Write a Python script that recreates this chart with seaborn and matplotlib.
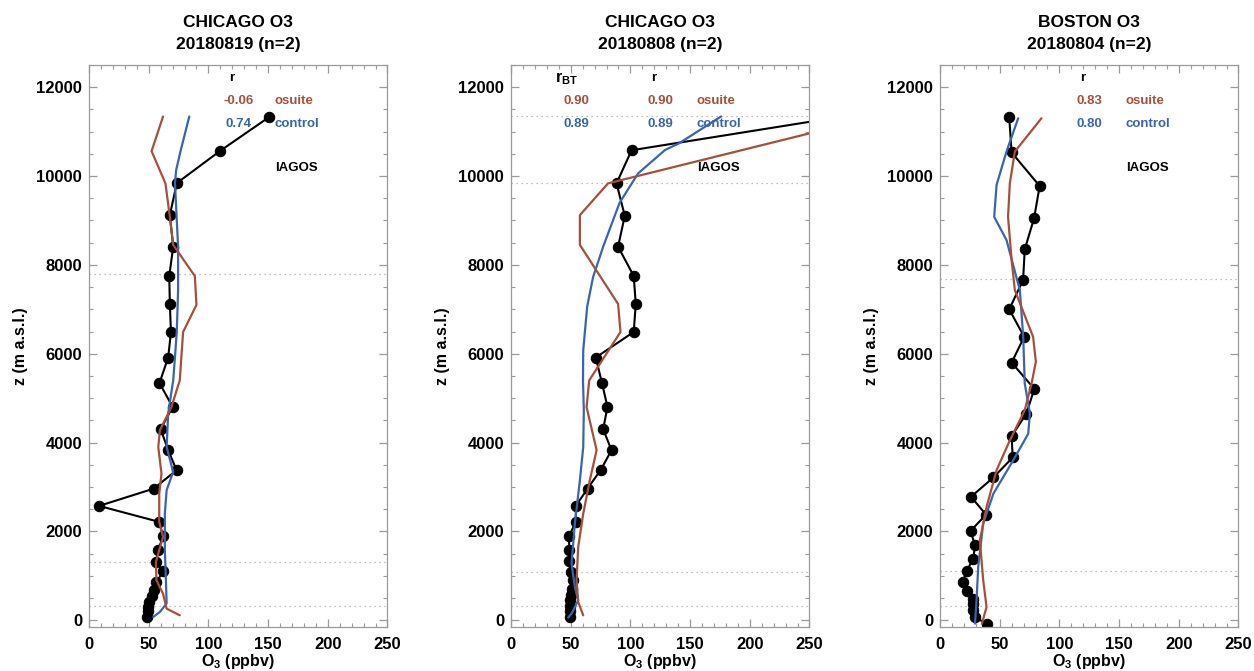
import numpy as np
import pandas as pd
import matplotlib
matplotlib.use("Agg")
import matplotlib.pyplot as plt
import seaborn as sns

# ---------------------------------------------------------------- data
# Panel 1: CHICAGO O3, 20180819
p1_iagos_z = [11330, 10560, 9840, 9120, 8410, 7750, 7120, 6490, 5915, 5340, 4805, 4300, 3830, 3380,
              2965, 2575, 2215, 1890, 1590, 1313, 1100, 863, 690, 540, 413, 300, 210, 75]
p1_iagos_o3 = [151, 109.5, 73.5, 67.7, 70.5, 67.2, 67.7, 68.6, 66.3, 59, 70, 60, 66.3, 73.3,
               54.3, 8.4, 58.8, 62, 58, 56, 62, 56.5, 54.3, 52.4, 50.4, 49.6, 49.6, 48.2]
p1_osuite_z = [11340, 10560, 9835, 9080, 8450, 7750, 7100, 6490, 5400, 4800, 4280, 3900, 3300,
               2850, 2215, 1880, 1580, 1313, 900, 600, 263, 113]
p1_osuite_o3 = [62, 52.4, 64, 67.7, 70.5, 88.6, 90, 78.8, 76, 69, 59.4, 58, 60.7,
                58.8, 58.8, 62, 58.8, 56, 56.5, 62, 65, 76]
p1_control_z = [11340, 10600, 10135, 9840, 9000, 8410, 7430, 6500, 5930, 5400, 4660, 3900, 3340,
                2930, 2410, 1600, 900, 380, 190, 75]
p1_control_o3 = [84, 77, 73, 72, 73.5, 74.6, 74.6, 73.5, 72, 70.5, 66.3, 65, 70.5,
                 65, 63.5, 63.5, 64.4, 65, 59.4, 53.8]

# Panel 2: CHICAGO O3, 20180808
p2_iagos_z = [11340, 10580, 9835, 9105, 8410, 7750, 7120, 6490, 5915, 5340, 4805, 4300, 3830, 3390,
              2965, 2575, 2215, 1900, 1590, 1330, 1090, 900, 713, 563, 450, 315, 203, 75]
p2_iagos_o3 = [278, 101, 88.4, 95.3, 89.7, 102.8, 104.5, 102.8, 71, 76.2, 80.8, 77.2, 84.2, 75.3,
               64.1, 54.3, 54.3, 48.7, 48.7, 48.7, 49.9, 52, 51.2, 50.4, 49.6, 49.3, 49.3, 49]
p2_osuite_z = [11340, 9835, 9120, 8450, 7120, 6490, 5400, 4800, 3830, 3150, 2400, 1650, 900, 413, 113]
p2_osuite_o3 = [307, 81.3, 57.7, 57.7, 89.7, 91.7, 65.5, 63.3, 71.7, 66, 60.5, 56.3, 54.9, 56.3, 60.5]
p2_control_z = [11340, 10740, 10585, 10060, 9400, 8410, 7730, 7060, 6080, 5400, 4730, 3900, 3150,
                2180, 1280, 750, 450, 150, 60]
p2_control_o3 = [176, 141, 129, 106.5, 91, 77.2, 68.8, 63.8, 60.5, 60.3, 61, 60.5, 57.7,
                 53.5, 50.7, 53.5, 56.3, 50.7, 47.9]

# Panel 3: BOSTON O3, 20180804
p3_iagos_z = [11320, 10530, 9775, 9050, 8350, 7660, 7000, 6380, 5800, 5210, 4655, 4145, 3665, 3215,
              2780, 2380, 2010, 1690, 1390, 1110, 863, 660, 490, 360, 225, 75, -80]
p3_iagos_o3 = [58, 60, 83.5, 78.8, 71, 69.6, 58, 70.5, 60, 79, 72.4, 60, 60.9, 44.7,
               26, 38.5, 25.6, 29.3, 27.9, 22.3, 19, 22.9, 27.4, 27.9, 27.9, 29.3, 39]
p3_osuite_z = [11300, 10550, 9835, 9080, 8110, 7430, 6380, 5820, 5330, 4730, 4050, 3380, 2550,
               1800, 900, 300, -75]
p3_osuite_o3 = [85, 62.7, 58.5, 57, 60, 62.7, 78, 80.3, 76.7, 71, 58.5, 47.4, 39,
                33.4, 36.2, 39, 35.1]
p3_control_z = [11300, 10550, 9800, 9080, 8560, 7430, 6380, 5330, 4655, 4200, 3600, 2850, 2180,
                1200, 450, -75]
p3_control_o3 = [65.5, 55.7, 47.4, 45.4, 55.7, 66.9, 69.7, 71, 75.3, 73.9, 61.3, 44.7, 36.2,
                 32, 30.6, 29.3]

titles = ["CHICAGO O3", "CHICAGO O3", "BOSTON O3"]
subtitles = ["20180819 (n=2)", "20180808 (n=2)", "20180804 (n=2)"]
r_osuite = ["-0.06", "0.90", "0.83"]
r_control = ["0.74", "0.89", "0.80"]
rbt_osuite = [None, "0.90", None]
rbt_control = [None, "0.89", None]
layer_z = [[7800, 1310, 330], [11340, 9840, 1090, 320], [7680, 1110, 320]]

# ---------------------------------------------------------------- style
sns.set_theme(style="ticks")
plt.rcParams["font.family"] = ["Liberation Sans", "DejaVu Sans"]
plt.rcParams["font.weight"] = "bold"
plt.rcParams["text.color"] = "black"
plt.rcParams["axes.labelcolor"] = "black"
plt.rcParams["mathtext.fontset"] = "custom"
plt.rcParams["mathtext.rm"] = "Liberation Sans:bold"
plt.rcParams["mathtext.it"] = "Liberation Sans:bold"
plt.rcParams["mathtext.bf"] = "Liberation Sans:bold"

C_OSUITE = "#a5503c"
C_CONTROL = "#3a65ab"
C_AXIS = "#9a9a9a"

fig = plt.figure(figsize=(12.54, 6.71), dpi=100)
lefts = [0.0710, 0.4075, 0.7496]
axes = [fig.add_axes([l, 0.0656, 0.2380, 0.8376]) for l in lefts]

panels = [
    (p1_iagos_o3, p1_iagos_z, p1_osuite_o3, p1_osuite_z, p1_control_o3, p1_control_z),
    (p2_iagos_o3, p2_iagos_z, p2_osuite_o3, p2_osuite_z, p2_control_o3, p2_control_z),
    (p3_iagos_o3, p3_iagos_z, p3_osuite_o3, p3_osuite_z, p3_control_o3, p3_control_z),
]

for i, (ax, pdata) in enumerate(zip(axes, panels)):
    io3, iz, oo3, oz, co3, cz = pdata

    for z in layer_z[i]:
        ax.axhline(z, color="#aaaaaa", lw=0.9, ls=(0, (1, 3)), zorder=0)

    sns.lineplot(x=io3, y=iz, sort=False, estimator=None, ax=ax, color="black", lw=1.5,
                 marker="o", markersize=7.5, markeredgecolor="black", zorder=2)
    sns.lineplot(x=co3, y=cz, sort=False, estimator=None, ax=ax, color=C_CONTROL, lw=1.6, zorder=3)
    sns.lineplot(x=oo3, y=oz, sort=False, estimator=None, ax=ax, color=C_OSUITE, lw=1.6, zorder=4)

    ax.set_xlim(0, 250)
    ax.set_ylim(-150, 12500)
    ax.set_xticks(np.arange(0, 251, 50))
    ax.set_xticks(np.arange(0, 251, 10), minor=True)
    ax.set_yticks(np.arange(0, 12001, 2000))
    ax.set_yticks(np.arange(0, 12501, 500), minor=True)
    ax.tick_params(which="both", direction="in", top=True, right=True, color=C_AXIS,
                   labelsize=12, labelcolor="black")
    ax.tick_params(which="major", length=6, width=0.9)
    ax.tick_params(which="minor", length=3, width=0.8)
    ax.tick_params(axis="x", pad=7)
    ax.tick_params(axis="y", pad=5)
    for lab in ax.get_xticklabels() + ax.get_yticklabels():
        lab.set_fontweight("bold")
    for sp in ax.spines.values():
        sp.set_visible(True)
        sp.set_color(C_AXIS)
        sp.set_linewidth(0.9)

    ax.set_xlabel("O$_3$ (ppbv)", fontsize=11.5, fontweight="bold", color="black")
    ax.xaxis.set_label_coords(0.5, -0.045)
    ax.set_ylabel("z (m a.s.l.)", fontsize=11.5, fontweight="bold", color="black")
    ax.yaxis.set_label_coords(-0.205, 0.5)

    ax.text(0.5, 1.075, titles[i], transform=ax.transAxes, ha="center", va="center",
            fontsize=12.5, fontweight="bold", color="black")
    ax.text(0.5, 1.036, subtitles[i], transform=ax.transAxes, ha="center", va="center",
            fontsize=12.5, fontweight="bold", color="black")

    # correlation table
    fs = 9.5
    ax.text(0.478, 0.977, "r", transform=ax.transAxes, ha="center", va="center", fontsize=fs)
    ax.text(0.50, 0.936, r_osuite[i], transform=ax.transAxes, ha="center", va="center",
            fontsize=fs, color=C_OSUITE)
    ax.text(0.50, 0.895, r_control[i], transform=ax.transAxes, ha="center", va="center",
            fontsize=fs, color=C_CONTROL)
    ax.text(0.622, 0.936, "osuite", transform=ax.transAxes, ha="left", va="center",
            fontsize=fs, color=C_OSUITE)
    ax.text(0.622, 0.895, "control", transform=ax.transAxes, ha="left", va="center",
            fontsize=fs, color=C_CONTROL)
    ax.text(0.624, 0.817, "IAGOS", transform=ax.transAxes, ha="left", va="center",
            fontsize=fs, color="black")
    if rbt_osuite[i] is not None:
        ax.text(0.148, 0.975, r"r$_\mathregular{BT}$", transform=ax.transAxes, ha="left",
                va="center", fontsize=fs + 2)
        ax.text(0.22, 0.936, rbt_osuite[i], transform=ax.transAxes, ha="center", va="center",
                fontsize=fs, color=C_OSUITE)
        ax.text(0.22, 0.895, rbt_control[i], transform=ax.transAxes, ha="center", va="center",
                fontsize=fs, color=C_CONTROL)

fig.savefig("out.png", dpi=100, facecolor="white")
